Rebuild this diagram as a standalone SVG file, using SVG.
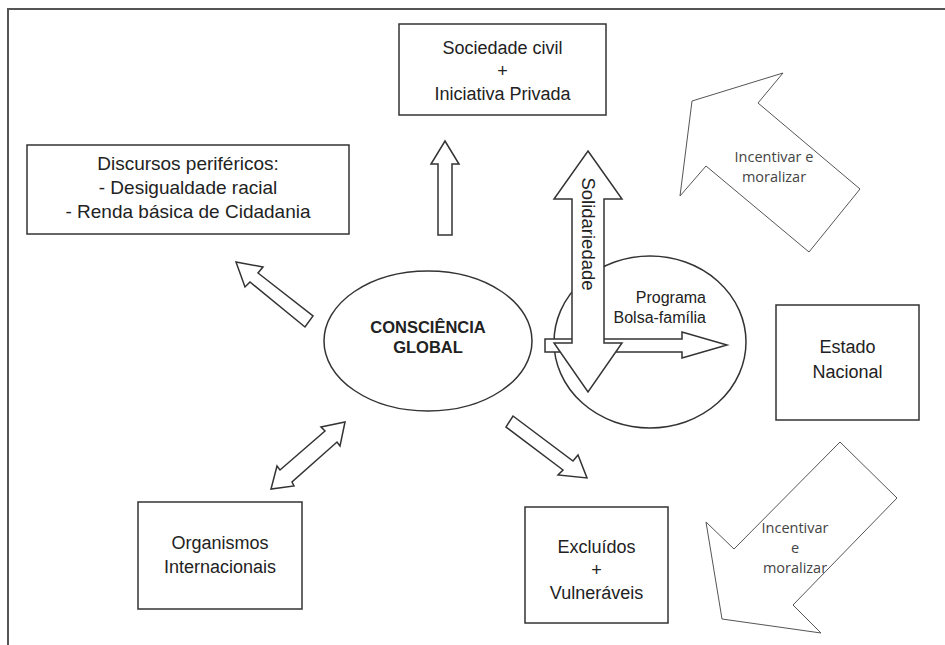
<svg xmlns="http://www.w3.org/2000/svg" width="945" height="645" viewBox="0 0 945 645">
<style>
.box{fill:#fff;stroke:#333;stroke-width:1.5}
.ell{fill:#fff;stroke:#333;stroke-width:1.5}
.arr{fill:#fff;stroke:#333;stroke-width:1.5;stroke-linejoin:miter}
.big{fill:#fff;stroke:#555;stroke-width:1}
.t{font-family:"Liberation Sans",Arial,sans-serif;font-size:18px;fill:#222;text-anchor:middle}
.b{font-weight:bold;font-size:16.5px}
.c{font-family:"Open Sans","Noto Sans",sans-serif;font-size:14.5px;fill:#444;text-anchor:middle}
</style>
<rect width="945" height="645" fill="#fff"/>
<rect x="8" y="9" width="960" height="660" fill="none" stroke="#555" stroke-width="2"/>

<g id="sociedade">
<rect class="box" x="399" y="24" width="207" height="91"/>
<text class="t" x="502.5" y="54">Sociedade civil</text>
<text class="t" x="502.5" y="77">+</text>
<text class="t" x="502.5" y="100">Iniciativa Privada</text>
</g>
<g id="discursos">
<rect class="box" x="27" y="145" width="322" height="89"/>
<text class="t" x="188" y="170" style="font-size:19px">Discursos periféricos:</text>
<text class="t" x="188" y="194" style="font-size:19px">- Desigualdade racial</text>
<text class="t" x="188" y="218" style="font-size:19px">- Renda básica de Cidadania</text>
</g>
<g id="consciencia">
<ellipse class="ell" cx="428" cy="341" rx="104" ry="70"/>
<text class="t b" x="428" y="333">CONSCIÊNCIA</text>
<text class="t b" x="428" y="353">GLOBAL</text>
</g>
<g id="programa">
<ellipse class="ell" cx="650" cy="342" rx="96" ry="86"/>
<text class="t" x="706" y="303" style="text-anchor:end;font-size:16px">Programa</text>
<text class="t" x="706" y="323" style="text-anchor:end;font-size:16px">Bolsa-família</text>
</g>
<g id="estado">
<rect class="box" x="776" y="305" width="143" height="115"/>
<text class="t" x="847.5" y="353">Estado</text>
<text class="t" x="847.5" y="378">Nacional</text>
</g>
<g id="organismos">
<rect class="box" x="138" y="502" width="164" height="107"/>
<text class="t" x="220" y="549">Organismos</text>
<text class="t" x="220" y="573">Internacionais</text>
</g>
<g id="excluidos">
<rect class="box" x="525" y="507" width="143" height="116"/>
<text class="t" x="596.5" y="553">Excluídos</text>
<text class="t" x="596.5" y="576">+</text>
<text class="t" x="596.5" y="599">Vulneráveis</text>
</g>

<g id="connectors">
<polygon class="arr" points="445,141 459,164 452,164 452,235 438,235 438,164 431,164"/>
<polygon class="arr" points="236,262 263,267 258,273 313,316 305,327 250,282 245,287"/>
<polygon class="arr" points="345,422 340,446 337,442 292,482 294,486 271,489 277,466 280,470 325,431 321,427"/>
<polygon class="arr" points="513,416 573,461 578,455 587,478 558,475 563,470 506,427"/>
<polygon class="arr" points="545,339 682,339 682,332 727,345 682,358 682,352 545,352"/>
<polygon class="arr" points="588,151 622,199 604,199 604,343 622,343 588,392 554,343 572,343 572,199 554,199"/>
<text class="t" transform="translate(588,234) rotate(90)" dy="0.35em" style="font-size:18.5px">Solidariedade</text>
<g id="incentivar-top">
<polygon class="big" points="783,73 692,101 680,196 706,166 809,252 860,189 758,103"/>
<text class="c" x="774" y="162">Incentivar e</text>
<text class="c" x="774" y="182">moralizar</text>
</g>
<g id="incentivar-bottom">
<polygon class="big" points="840,442 897,498 793,605 821,633 722,619 706,522 734,549"/>
<text class="c" x="795" y="533">Incentivar</text>
<text class="c" x="795" y="553">e</text>
<text class="c" x="795" y="573">moralizar</text>
</g>
</g>
</svg>
